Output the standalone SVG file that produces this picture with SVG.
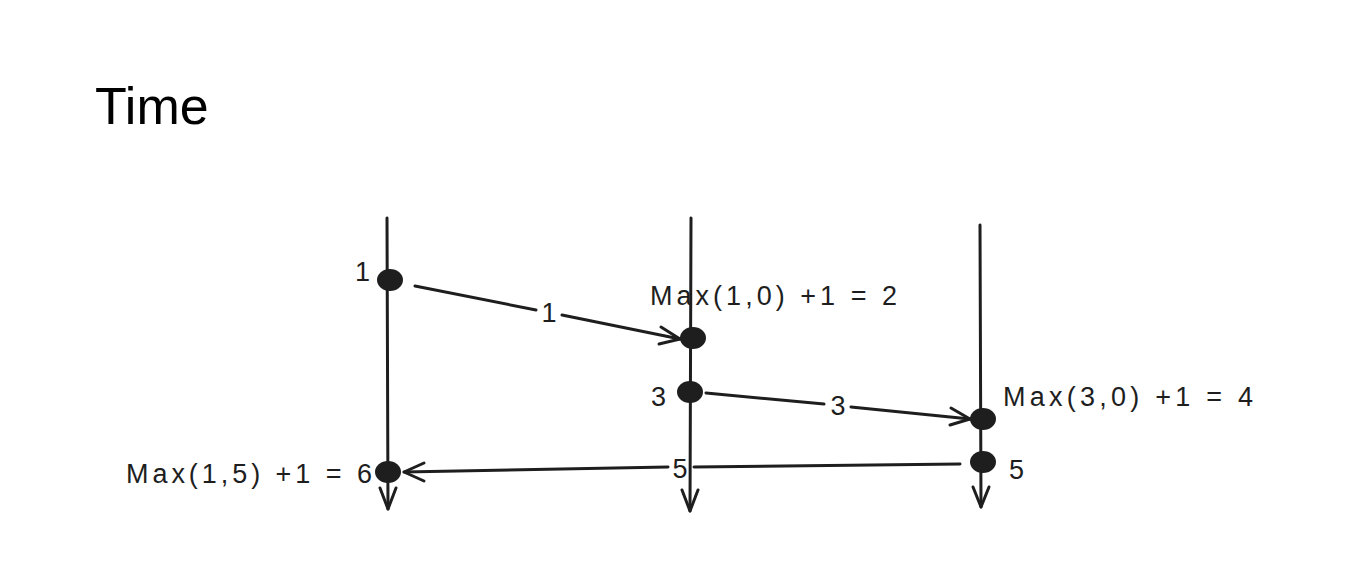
<svg xmlns="http://www.w3.org/2000/svg" width="1354" height="576" viewBox="0 0 1354 576">
<style>
.ln{stroke:#1e1e1e;stroke-width:3;fill:none;stroke-linecap:round;stroke-linejoin:round}
.dot{fill:#1e1e1e}
.t{font-family:"Liberation Sans",Arial,sans-serif;fill:#1e1e1e;font-size:27px}
.title{font-family:"Liberation Sans",Arial,sans-serif;fill:#000;font-size:52px}
.lbl{font-family:"Liberation Sans",Arial,sans-serif;fill:#1e1e1e;font-size:27px;text-anchor:middle}
</style>
<rect width="1354" height="576" fill="#fff"/>
<text class="title" x="95" y="124">Time</text>
<g id="timelines">
<g id="timeline-1">
<path class="ln" d="M387 218 L388 509"/>
<path class="ln" d="M380 488 L388 509 L396 488"/>
</g>
<g id="timeline-2">
<path class="ln" d="M691 218 L690 511"/>
<path class="ln" d="M682 490 L690 511 L698 490"/>
</g>
<g id="timeline-3">
<path class="ln" d="M980 225 L981 507"/>
<path class="ln" d="M973 487 L981 507 L989 487"/>
</g>
</g>
<g id="connectors">
<g id="msg-1">
<path class="ln" d="M415 286 L536 310 M562 315 L680 339"/>
<path class="ln" d="M661 327 L680 339 L659 344"/>
<text class="lbl" x="549" y="322">1</text>
</g>
<g id="msg-3">
<path class="ln" d="M706 393 L824 404 M851 407 L970 419"/>
<path class="ln" d="M951 408 L970 419 L950 425"/>
<text class="lbl" x="838" y="415">3</text>
</g>
<g id="msg-5">
<path class="ln" d="M960 464 L694 467 M668 467 L404 472"/>
<path class="ln" d="M424 463 L404 472 L424 481"/>
<text class="lbl" x="680" y="478">5</text>
</g>
</g>
<g id="event-a1">
<ellipse class="dot" cx="390" cy="280" rx="13" ry="11"/>
<text class="t" x="355" y="281">1</text>
</g>
<g id="event-b1">
<ellipse class="dot" cx="693" cy="338" rx="13" ry="11"/>
<text class="t" x="650" y="305" textLength="247" lengthAdjust="spacing">Max(1,0) +1 = 2</text>
</g>
<g id="event-b2">
<ellipse class="dot" cx="690" cy="392" rx="13" ry="11"/>
<text class="t" x="651" y="406">3</text>
</g>
<g id="event-c1">
<ellipse class="dot" cx="983" cy="419" rx="13" ry="11"/>
<text class="t" x="1003" y="406" textLength="250" lengthAdjust="spacing">Max(3,0) +1 = 4</text>
</g>
<g id="event-c2">
<ellipse class="dot" cx="983" cy="462" rx="13" ry="11"/>
<text class="t" x="1009" y="479">5</text>
</g>
<g id="event-a2">
<ellipse class="dot" cx="388" cy="472" rx="13" ry="11"/>
<text class="t" x="126" y="483" textLength="246" lengthAdjust="spacing">Max(1,5) +1 = 6</text>
</g>
</svg>
